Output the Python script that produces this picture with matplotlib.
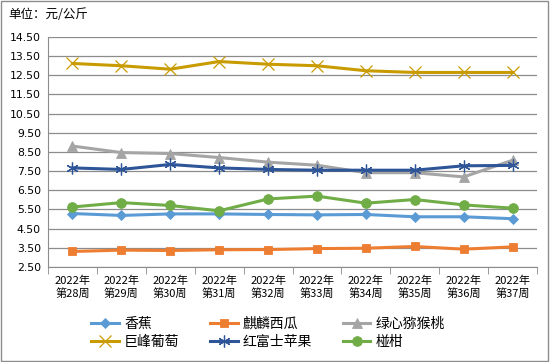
import matplotlib
matplotlib.use("Agg")
import matplotlib.pyplot as plt
from matplotlib.patches import Rectangle

plt.rcParams['font.family'] = ['Noto Sans CJK SC', 'DejaVu Sans']

weeks = ["2022年\n第28周", "2022年\n第29周", "2022年\n第30周", "2022年\n第31周", "2022年\n第32周",
         "2022年\n第33周", "2022年\n第34周", "2022年\n第35周", "2022年\n第36周", "2022年\n第37周"]

banana = [5.29, 5.19, 5.27, 5.27, 5.24, 5.22, 5.24, 5.12, 5.12, 5.02]
watermelon = [3.31, 3.38, 3.36, 3.40, 3.41, 3.46, 3.48, 3.57, 3.43, 3.55]
kiwi = [8.81, 8.47, 8.42, 8.21, 7.97, 7.81, 7.42, 7.42, 7.20, 8.07]
grape = [13.12, 13.00, 12.82, 13.22, 13.08, 13.00, 12.74, 12.65, 12.65, 12.65]
apple = [7.67, 7.59, 7.85, 7.67, 7.59, 7.55, 7.55, 7.55, 7.78, 7.80]
orange = [5.63, 5.86, 5.71, 5.43, 6.05, 6.20, 5.83, 6.02, 5.74, 5.57]

yticks = [2.5, 3.5, 4.5, 5.5, 6.5, 7.5, 8.5, 9.5, 10.5, 11.5, 12.5, 13.5, 14.5]

# name, values, colour, marker, marker size, marker edge width
series = [
    ("香蕉", banana, "#5B9BD5", "D", 5.5, 0.6),
    ("麒麟西瓜", watermelon, "#ED7D31", "s", 5.5, 0.6),
    ("绿心猕猴桃", kiwi, "#A5A5A5", "^", 7, 0.6),
    ("巨峰葡萄", grape, "#C89B00", "x", 8, 0.9),
    ("红富士苹果", apple, "#2E5597", (6, 2, 0), 8.5, 0.9),
    ("椪柑", orange, "#70AD47", "o", 7, 0.6),
]

fig = plt.figure(figsize=(5.5, 3.62), dpi=100)
ax = fig.add_axes([48 / 550, 1 - 267 / 362, 489 / 550, 230 / 362])

x = list(range(len(weeks)))
handles = []
for name, vals, col, mk, ms, mew in series:
    h, = ax.plot(x, vals, color=col, lw=2.2, marker=mk, markersize=ms,
                 markerfacecolor=col, markeredgecolor=col, markeredgewidth=mew,
                 label=name, zorder=3)
    handles.append(h)

ax.set_xlim(-0.5, 9.5)
ax.set_ylim(2.5, 14.5)
ax.set_yticks(yticks)
ax.set_yticklabels([f"{v:.2f}" for v in yticks], fontsize=7.8, family='DejaVu Sans')
ax.set_xticks(x)
ax.set_xticklabels(weeks, fontsize=8, linespacing=1.25)
ax.set_xticks([i - 0.5 for i in range(len(weeks) + 1)], minor=True)
ax.tick_params(axis='x', which='major', length=0, pad=6)
ax.tick_params(axis='x', which='minor', length=5, color='#898989')
ax.tick_params(axis='y', length=0, pad=5)
ax.yaxis.grid(True, color='#8C8C8C', lw=0.9)
ax.set_axisbelow(True)
for s in ('top', 'right'):
    ax.spines[s].set_visible(False)
ax.spines['left'].set_color('#8C8C8C')
ax.spines['bottom'].set_color('#8C8C8C')

fig.text(8 / 550, 1 - 15 / 362, "单位：元/公斤", fontsize=9, va='center', ha='left')

order = [0, 3, 1, 4, 2, 5]
fig.legend([handles[i] for i in order], [series[i][0] for i in order],
           ncol=3, loc='center', bbox_to_anchor=(268 / 550, 1 - 333 / 362),
           frameon=False, fontsize=10, handlelength=2.0, columnspacing=2.2,
           handletextpad=0.35, labelspacing=0.3)

fig.patches.append(Rectangle((0.002, 0.004), 0.994, 0.992, transform=fig.transFigure,
                             fill=False, edgecolor='#8C8C8C', lw=1.0))

fig.savefig("out.png", dpi=100)
